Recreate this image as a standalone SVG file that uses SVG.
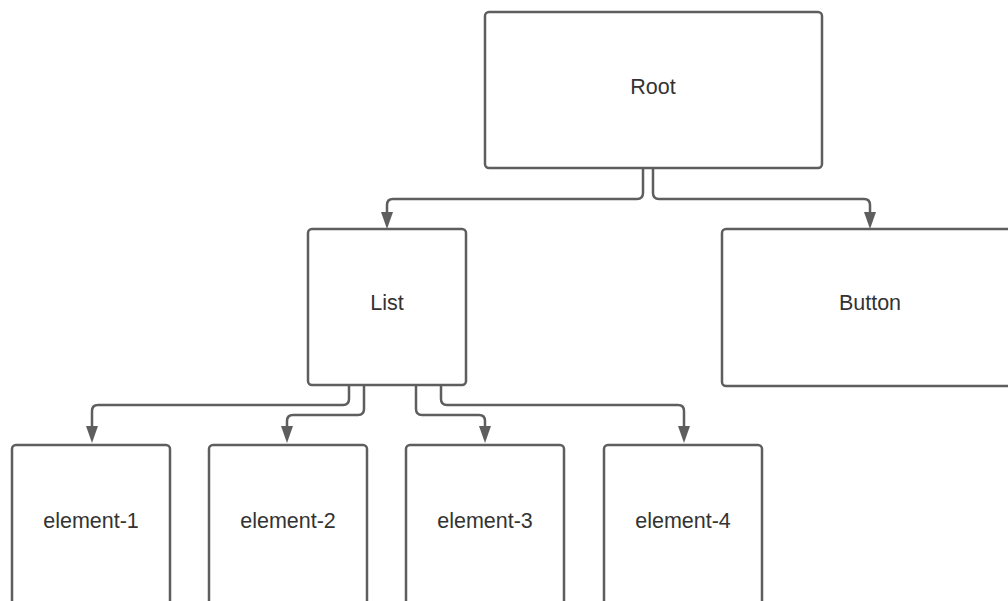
<svg xmlns="http://www.w3.org/2000/svg" width="1008" height="601" viewBox="0 0 1008 601">
<defs>
<style>
.box{fill:#fff;stroke:#5e5e5e;stroke-width:2.5}
.lbl{font-family:"Liberation Sans",Arial,sans-serif;font-size:21.5px;fill:#333;text-anchor:middle;dominant-baseline:central}
.con{fill:none;stroke:#5e5e5e;stroke-width:2.5}
.ah{fill:#5e5e5e}
</style>
</defs>
<rect width="1008" height="601" fill="#fff"/>
<g id="connectors">
<path class="con" d="M643,168 V193 Q643,199 637,199 H393 Q387,199 387,205 V214"/>
<polygon class="ah" points="381,212 393,212 387,229"/>
<path class="con" d="M653,168 V193 Q653,199 659,199 H864 Q870,199 870,205 V214"/>
<polygon class="ah" points="864,212 876,212 870,229"/>
<path class="con" d="M349,385 V399 Q349,405 343,405 H98 Q92,405 92,411 V428"/>
<polygon class="ah" points="86,426 98,426 92,443"/>
<path class="con" d="M364,385 V409 Q364,415 358,415 H293 Q287,415 287,421 V428"/>
<polygon class="ah" points="281,426 293,426 287,443"/>
<path class="con" d="M416,385 V409 Q416,415 422,415 H479 Q485,415 485,421 V428"/>
<polygon class="ah" points="479,426 491,426 485,443"/>
<path class="con" d="M441,385 V399 Q441,405 447,405 H678 Q684,405 684,411 V428"/>
<polygon class="ah" points="678,426 690,426 684,443"/>
</g>
<g id="root"><rect class="box" x="485" y="12" width="337" height="156" rx="4"/><text class="lbl" x="653" y="87">Root</text></g>
<g id="list"><rect class="box" x="308" y="229" width="158" height="156" rx="4"/><text class="lbl" x="387" y="303">List</text></g>
<g id="button"><rect class="box" x="722" y="229" width="300" height="157" rx="4"/><text class="lbl" x="870" y="303">Button</text></g>
<g id="element-1"><rect class="box" x="12" y="445" width="158" height="170" rx="4"/><text class="lbl" x="91" y="521">element-1</text></g>
<g id="element-2"><rect class="box" x="209" y="445" width="158" height="170" rx="4"/><text class="lbl" x="288" y="521">element-2</text></g>
<g id="element-3"><rect class="box" x="406" y="445" width="158" height="170" rx="4"/><text class="lbl" x="485" y="521">element-3</text></g>
<g id="element-4"><rect class="box" x="604" y="445" width="158" height="170" rx="4"/><text class="lbl" x="683" y="521">element-4</text></g>
</svg>
